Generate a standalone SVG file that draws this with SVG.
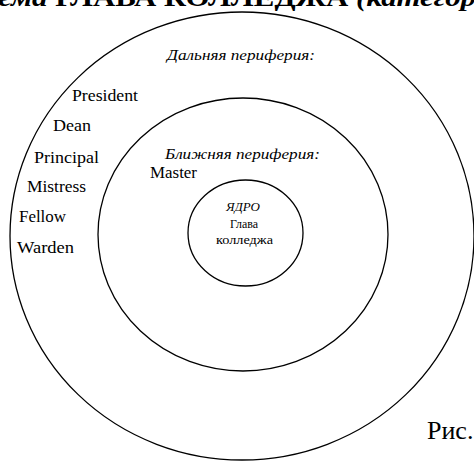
<svg xmlns="http://www.w3.org/2000/svg" width="474" height="461" viewBox="0 0 474 461">
<style>
.ring{fill:none;stroke:#000;stroke-width:1.3}
text{font-family:"Liberation Serif","Times New Roman",serif;fill:#000}
.it{font-style:italic}
.lbl{font-size:16px}
.zone{font-size:14px;font-style:italic}
.core{font-size:12.5px}
</style>
<rect width="474" height="461" fill="#fff"/>
<text x="-2" y="6" font-size="25" font-weight="bold" textLength="478" lengthAdjust="spacingAndGlyphs"><tspan font-style="italic">ема</tspan> ГЛАВА КОЛЛЕДЖА <tspan font-style="italic">(категор</tspan></text>
<g id="outer">
<ellipse class="ring" cx="242" cy="236" rx="232" ry="224"/>
<text class="zone" x="241" y="60" text-anchor="middle" textLength="148" lengthAdjust="spacingAndGlyphs">Дальняя периферия:</text>
<text class="lbl" x="72" y="101" textLength="66" lengthAdjust="spacingAndGlyphs">President</text>
<text class="lbl" x="53" y="131" textLength="38" lengthAdjust="spacingAndGlyphs">Dean</text>
<text class="lbl" x="34" y="163" textLength="65" lengthAdjust="spacingAndGlyphs">Principal</text>
<text class="lbl" x="27" y="192" textLength="59" lengthAdjust="spacingAndGlyphs">Mistress</text>
<text class="lbl" x="19" y="222" textLength="47" lengthAdjust="spacingAndGlyphs">Fellow</text>
<text class="lbl" x="17" y="253" textLength="57" lengthAdjust="spacingAndGlyphs">Warden</text>
</g>
<g id="middle">
<ellipse class="ring" cx="243" cy="234.5" rx="145" ry="136.5"/>
<text class="zone" x="242.5" y="159" text-anchor="middle" textLength="155" lengthAdjust="spacingAndGlyphs">Ближняя периферия:</text>
<text class="lbl" x="150" y="178" textLength="47" lengthAdjust="spacingAndGlyphs">Master</text>
</g>
<g id="core">
<ellipse class="ring" cx="245.5" cy="233" rx="57.5" ry="53"/>
<text class="core it" x="243" y="211" text-anchor="middle" textLength="34" lengthAdjust="spacingAndGlyphs">ЯДРО</text>
<text class="core" x="244" y="228" text-anchor="middle" textLength="28" lengthAdjust="spacingAndGlyphs">Глава</text>
<text class="core" x="244.5" y="244" text-anchor="middle" textLength="57" lengthAdjust="spacingAndGlyphs">колледжа</text>
</g>
<text x="427" y="439" font-size="26">Рис.</text>
</svg>
